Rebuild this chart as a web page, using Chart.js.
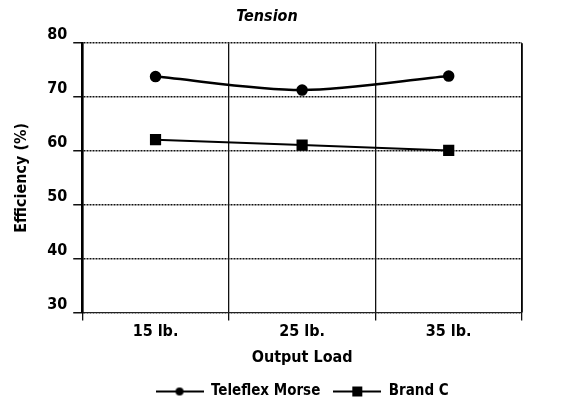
<!DOCTYPE html>
<html>
<head>
<meta charset="utf-8">
<script src="https://cdn.jsdelivr.net/npm/chart.js@4/dist/chart.umd.min.js"></script>
<style>
  html, body { margin: 0; padding: 0; background: #fff; }
  #wrap { width: 567px; height: 409px; }
</style>
</head>
<body>
<div id="wrap"><canvas id="tensionChart"></canvas></div>
<script>
// data
const loads = ['15 lb.', '25 lb.', '35 lb.'];
const teleflexMorse = [73.8, 71.3, 73.9];
const brandC = [62.1, 61.1, 60.1];
const yTicks = [30, 40, 50, 60, 70, 80];

const fontFam = '"Liberation Sans Narrow", "DejaVu Sans Condensed", "Liberation Sans", sans-serif';

// little legend swatch: line with the marker in the middle
function swatch(style) {
  const c = document.createElement('canvas');
  c.width = 48; c.height = 12;
  const g = c.getContext('2d');
  g.strokeStyle = '#000';
  g.lineWidth = 2;
  g.beginPath(); g.moveTo(0, 6); g.lineTo(48, 6); g.stroke();
  g.fillStyle = '#000';
  if (style == 'circle') {
    g.beginPath(); g.arc(24, 6, 4, 0, Math.PI * 2); g.fill();
  } else {
    g.fillRect(19, 1, 10, 10);
  }
  return c;
}
const swatches = [swatch('circle'), swatch('rect')];

const ctx = document.getElementById('tensionChart');
const tensionChart = new Chart(ctx, {
  type: 'line',
  data: {
    labels: loads,
    datasets: [
      {
        label: 'Teleflex Morse',
        data: teleflexMorse,
        borderColor: '#000',
        backgroundColor: '#000',
        borderWidth: 2.5,
        pointStyle: 'circle',
        pointRadius: 4.5,
        tension: 0.3
      },
      {
        label: 'Brand C',
        data: brandC,
        borderColor: '#000',
        backgroundColor: '#000',
        borderWidth: 2,
        pointStyle: 'rect',
        pointRadius: 6.5,
        tension: 0
      }
    ]
  },
  options: {
    responsive: true,
    maintainAspectRatio: false,
    animation: false,
    layout: { padding: { left: 12, right: 45, top: 2, bottom: 0 } },
    plugins: {
      title: {
        display: true,
        text: 'Tension',
        color: '#000',
        font: { family: fontFam, size: 16, weight: 'bold', style: 'italic' },
        padding: { top: 5, bottom: 17 }
      },
      legend: {
        position: 'bottom',
        labels: {
          color: '#000',
          font: { family: fontFam, size: 15, weight: 'bold' },
          usePointStyle: true,
          pointStyleWidth: 48,
          padding: 13,
          generateLabels: function(chart) {
            return chart.data.datasets.map(function(ds, i) {
              return {
                text: ds.label,
                pointStyle: swatches[i],
                fillStyle: '#000',
                strokeStyle: '#000',
                lineWidth: 0,
                fontColor: '#000',
                datasetIndex: i
              };
            });
          }
        }
      },
      tooltip: { enabled: false }
    },
    scales: {
      x: {
        offset: true,
        grid: { offset: true, color: '#111', lineWidth: 1.3, tickLength: 8, drawTicks: true },
        border: { display: true, color: '#222', width: 1 },
        ticks: { color: '#000', font: { family: fontFam, size: 16, weight: 'bold' }, padding: 2 },
        title: {
          display: true,
          text: 'Output Load',
          color: '#000',
          font: { family: fontFam, size: 16, weight: 'bold' },
          padding: { top: 4, bottom: 4 }
        }
      },
      y: {
        min: 30,
        max: 80,
        afterBuildTicks: function(axis) {
          axis.ticks = yTicks.map(function(v) { return { value: v }; });
        },
        grid: { color: '#111', lineWidth: 1.5, tickLength: 9 },
        border: { display: true, color: '#000', width: 2.5, dash: [2, 1] },
        ticks: { color: '#000', font: { family: fontFam, size: 16, weight: 'bold' }, padding: 6, labelOffset: -8 },
        title: {
          display: true,
          text: 'Efficiency (%)',
          color: '#000',
          font: { family: fontFam, size: 16, weight: 'bold' },
          padding: { top: 0, bottom: 10 }
        }
      }
    }
  },
  plugins: [{
    // right edge of the frame, legend centred under the plot
    id: 'frameRight',
    afterLayout: function(chart) {
      chart.legend.left = chart.chartArea.left;
      chart.legend.right = chart.chartArea.right;
    },
    afterDraw: function(chart) {
      const a = chart.chartArea;
      const g = chart.ctx;
      g.save();
      g.strokeStyle = '#000';
      g.lineWidth = 1.5;
      g.beginPath();
      g.moveTo(a.right, a.top);
      g.lineTo(a.right, a.bottom);
      g.stroke();
      g.restore();
    }
  }]
});
</script>
</body>
</html>
